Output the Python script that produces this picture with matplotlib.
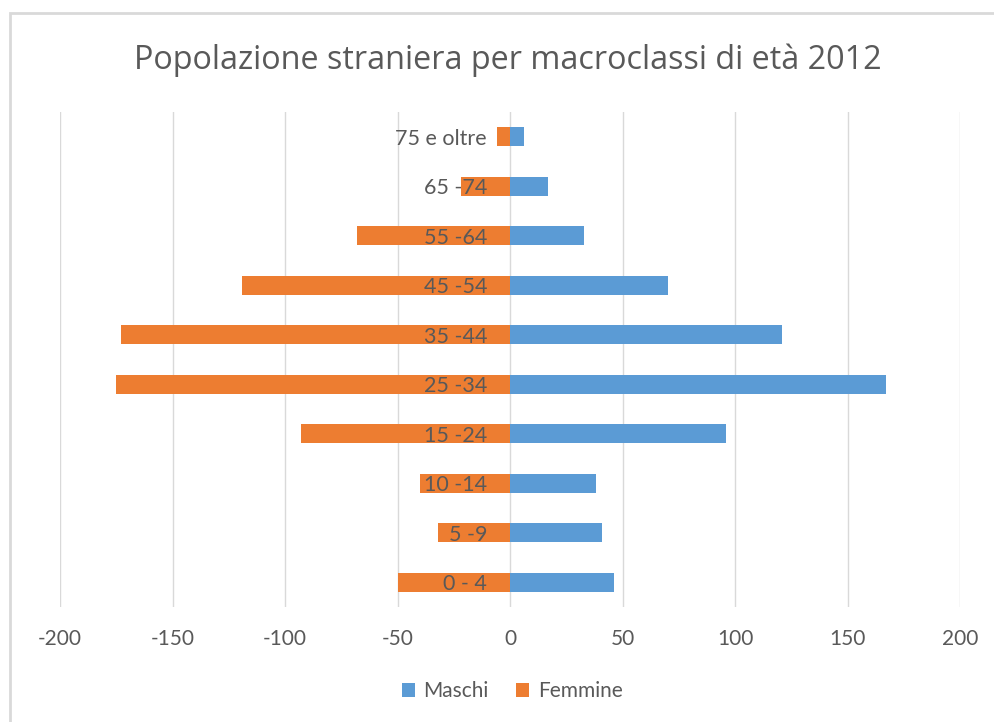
import matplotlib
matplotlib.use("Agg")
import matplotlib.pyplot as plt
from matplotlib.patches import Rectangle

# age classes, bottom to top
classi = ["0 - 4", "5 -9", "10 -14", "15 -24", "25 -34",
          "35 -44", "45 -54", "55 -64", "65 -74", "75 e oltre"]
maschi = [46, 41, 38, 96, 167, 121, 70, 33, 17, 6]
femmine = [-50, -32, -40, -93, -175, -173, -119, -68, -22, -6]
xticks = [-200, -150, -100, -50, 0, 50, 100, 150, 200]

grigio = "#595959"
blu = "#5B9BD5"
arancio = "#ED7D31"

fig = plt.figure(figsize=(9.95, 7.22), dpi=100)
ax = fig.add_axes([60/995, 1 - 607/722, 900/995, 495/722])

pos = range(len(classi))
ax.barh(pos, maschi, height=0.39, color=blu, label="Maschi")
ax.barh(pos, femmine, height=0.39, color=arancio, label="Femmine")

ax.set_xlim(-200, 200)
ax.set_ylim(-0.5, len(classi) - 0.5)
ax.set_xticks(xticks)
ax.set_xticklabels([str(v) for v in xticks])
ax.set_yticks(list(pos))
ax.set_yticklabels(classi)

for s in ax.spines.values():
    s.set_visible(False)
ax.spines["left"].set_position(("data", 0))

ax.set_axisbelow(True)
ax.yaxis.set_zorder(3)
ax.grid(axis="x", color="#d9d9d9", linewidth=1.0)
ax.tick_params(axis="x", length=0, pad=16, labelsize=15, labelcolor=grigio)
ax.tick_params(axis="y", length=0, pad=16.5, labelsize=15.5, labelcolor=grigio)
for lab in ax.get_xticklabels() + ax.get_yticklabels():
    lab.set_family("Lato")

fig.text(508/995, 1 - 60/722, "Popolazione straniera per macroclassi di età 2012",
         ha="center", va="center", fontsize=23.3, color=grigio, family="Open Sans")

leg = fig.legend(loc="center", bbox_to_anchor=(512/995, 1 - 691/722), ncol=2,
                 frameon=False, handlelength=0.65, handleheight=0.65,
                 handletextpad=0.4, columnspacing=1.3,
                 prop={"family": "Lato", "size": 15})
for t in leg.get_texts():
    t.set_color(grigio)

# chart area border (cropped at right and bottom)
fig.patches.append(Rectangle((9.5/995, -0.1), 1.2, 1 - 13/722 + 0.1,
                             transform=fig.transFigure, fill=False,
                             edgecolor="#d9d9d9", linewidth=2))

fig.savefig("out.png", dpi=100)
